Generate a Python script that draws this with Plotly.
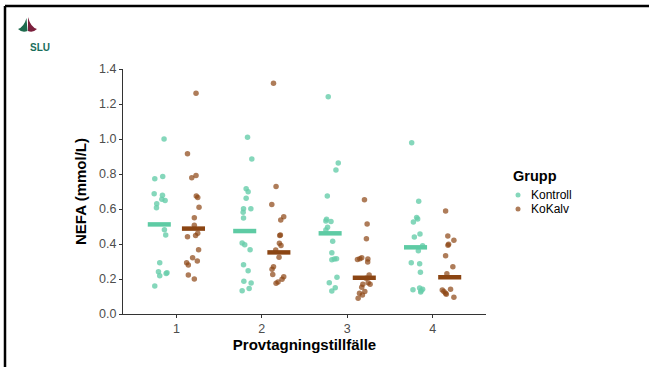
import plotly.graph_objects as go

# NEFA values (jittered x positions as drawn)
kontroll_x = [0.856, 0.747, 0.84, 0.74, 0.837, 0.77, 0.83, 0.868, 0.767, 0.86, 0.875, 0.805, 0.79, 0.805, 0.89, 0.88, 0.747,
              1.833, 1.883, 1.817, 1.84, 1.817, 1.786, 1.872, 1.782, 1.786, 1.77, 1.80, 1.863, 1.786, 1.84, 1.79, 1.875, 1.852, 1.77,
              2.778, 2.895, 2.868, 2.767, 2.758, 2.75, 2.81, 2.77, 2.75, 2.83, 2.82, 2.82, 2.85, 2.875, 2.88, 2.79, 2.86, 2.82,
              3.755, 3.837, 3.813, 3.825, 3.775, 3.852, 3.786, 3.883, 3.833, 3.75, 3.848, 3.857, 3.77, 3.848, 3.883, 3.86, 3.865]
kontroll_y = [1.0, 0.773, 0.785, 0.687, 0.678, 0.63, 0.655, 0.648, 0.607, 0.482, 0.451, 0.293, 0.242, 0.219, 0.236, 0.232, 0.16,
              1.01, 0.886, 0.716, 0.699, 0.661, 0.602, 0.602, 0.581, 0.549, 0.406, 0.396, 0.367, 0.282, 0.247, 0.187, 0.177, 0.145, 0.133,
              1.242, 0.863, 0.823, 0.674, 0.541, 0.531, 0.528, 0.495, 0.48, 0.415, 0.35, 0.31, 0.314, 0.316, 0.21, 0.179, 0.15, 0.131,
              0.979, 0.644, 0.552, 0.543, 0.526, 0.457, 0.44, 0.39, 0.362, 0.293, 0.287, 0.238, 0.139, 0.149, 0.141, 0.126, 0.133]

kokalv_x = [1.23, 1.13, 1.18, 1.23, 1.233, 1.25, 1.265, 1.21, 1.21, 1.25, 1.225, 1.13, 1.26, 1.19, 1.12, 1.14, 1.245, 1.14, 1.21,
            2.137, 2.167, 2.117, 2.257, 2.222, 2.218, 2.21, 2.206, 2.225, 2.163, 2.202, 2.137, 2.12, 2.128, 2.257, 2.237, 2.19, 2.167,
            3.202, 3.233, 3.225, 3.12, 3.17, 3.148, 3.242, 3.24, 3.257, 3.268, 3.245, 3.183, 3.206, 3.17, 3.144, 3.128, 3.178, 3.22,
            4.152, 4.178, 4.249, 4.187, 4.18, 4.152, 4.237, 4.167, 4.21, 4.113, 4.132, 4.152, 4.16, 4.249]
kokalv_y = [1.261, 0.916, 0.779, 0.792, 0.674, 0.665, 0.61, 0.55, 0.507, 0.461, 0.448, 0.442, 0.367, 0.322, 0.293, 0.28, 0.303, 0.223, 0.2,
            1.318, 0.728, 0.625, 0.556, 0.537, 0.451, 0.448, 0.404, 0.392, 0.366, 0.324, 0.27, 0.255, 0.225, 0.213, 0.198, 0.183, 0.175,
            0.653, 0.514, 0.43, 0.312, 0.322, 0.316, 0.314, 0.297, 0.223, 0.17, 0.179, 0.17, 0.128, 0.153, 0.118, 0.09, 0.109, 0.204,
            0.589, 0.446, 0.421, 0.398, 0.393, 0.333, 0.27, 0.23, 0.141, 0.137, 0.128, 0.118, 0.113, 0.095]

tillfalle = [1, 2, 3, 4]
mean_kontroll = [0.512, 0.474, 0.461, 0.381]
mean_kokalv = [0.488, 0.352, 0.207, 0.21]
grupper = ['Kontroll', 'KoKalv']

teal = '#66CDAA'
brown = '#8B4513'

# pixel -> paper helpers (plot area 123..486 x 69..314)
L, T, W, H = 123, 69, 363, 245
def px(x): return (x - L) / W
def py(y): return (T + H - y) / H

fig = go.Figure()

fig.add_trace(go.Scatter(x=kontroll_x, y=kontroll_y, mode='markers', name=grupper[0],
                         marker=dict(color=teal, opacity=0.8, size=5.5)))
fig.add_trace(go.Scatter(x=kokalv_x, y=kokalv_y, mode='markers', name=grupper[1],
                         marker=dict(color=brown, opacity=0.7, size=5.5)))

# mean crossbars
def bars(means, offset):
    xs, ys = [], []
    for c, m in zip(tillfalle, means):
        xs += [c + offset - 0.135, c + offset + 0.135, None]
        ys += [m, m, None]
    return xs, ys

bx, by = bars(mean_kontroll, -0.2)
fig.add_trace(go.Scatter(x=bx, y=by, mode='lines', line=dict(color='#5ECBA4', width=4.5), showlegend=False))
bx, by = bars(mean_kokalv, 0.2)
fig.add_trace(go.Scatter(x=bx, y=by, mode='lines', line=dict(color=brown, width=4.5), showlegend=False))

axis_font = dict(family='Liberation Sans, Arial', size=12.5, color='#4d4d4d')
title_font = dict(family='Liberation Sans, Arial', size=15, color='black')

fig.update_layout(
    width=649, height=367,
    margin=dict(l=L, r=649 - L - W, t=T, b=367 - T - H),
    plot_bgcolor='white', paper_bgcolor='white',
    font=dict(family='Liberation Sans, Arial'),
    showlegend=False,
    xaxis=dict(range=[0.375, 4.625], tickvals=tillfalle, ticktext=['1', '2', '3', '4'],
               showgrid=False, zeroline=False, showline=True, linecolor='#333333', linewidth=1.2,
               ticks='outside', ticklen=3, tickcolor='#333333', tickfont=axis_font,
               title=dict(text='<b>Provtagningstillfälle</b>', font=title_font, standoff=3)),
    yaxis=dict(range=[0, 1.4], tickvals=[0, 0.2, 0.4, 0.6, 0.8, 1.0, 1.2, 1.4], tickformat='.1f',
               showgrid=False, zeroline=False, showline=True, linecolor='#333333', linewidth=1.2,
               ticks='outside', ticklen=3, tickcolor='#333333', tickfont=axis_font,
               title=dict(text='<b>NEFA (mmol/L)</b>', font=title_font, standoff=8)),
)

# legend drawn by hand to match the compact ggplot spacing
fig.add_annotation(x=px(511), y=py(176), xref='paper', yref='paper', xanchor='left', yanchor='middle',
                   text='<b>Grupp</b>', showarrow=False,
                   font=dict(family='Liberation Sans, Arial', size=14.5, color='black'))
for name, col, op, yy in zip(grupper, [teal, brown], [0.8, 0.7], [195, 209]):
    fig.add_shape(type='circle', xref='paper', yref='paper', x0=px(515.5), x1=px(520.5),
                  y0=py(yy + 2.5), y1=py(yy - 2.5), fillcolor=col, opacity=op, line=dict(width=0))
    fig.add_annotation(x=px(529), y=py(yy), xref='paper', yref='paper', xanchor='left', yanchor='middle',
                       text=name, showarrow=False,
                       font=dict(family='Liberation Sans, Arial', size=12, color='black'))

# slide frame (top and left edges)
fig.add_shape(type='line', xref='paper', yref='paper', x0=px(5), x1=px(649), y0=py(6), y1=py(6),
              line=dict(color='black', width=2.5))
fig.add_shape(type='line', xref='paper', yref='paper', x0=px(5), x1=px(5), y0=py(6), y1=py(367),
              line=dict(color='black', width=2.5))

# SLU logo (approximation)
def path(points):
    s = 'M %f,%f' % (px(points[0][0]), py(points[0][1]))
    for i in range(1, len(points) - 1, 2):
        s += ' Q %f,%f %f,%f' % (px(points[i][0]), py(points[i][1]), px(points[i + 1][0]), py(points[i + 1][1]))
    return s + ' Z'

fig.add_shape(type='path', xref='paper', yref='paper', line=dict(width=0), fillcolor='#1E6B4E',
              path=path([(26.5, 18), (24, 27), (18, 29), (22, 33), (27.5, 31)]))
fig.add_shape(type='path', xref='paper', yref='paper', line=dict(width=0), fillcolor='#7B1F3C',
              path=path([(28, 17), (30.5, 27), (37, 29), (33, 33), (28, 31)]))
fig.add_annotation(x=px(27.5), y=py(39.5), xref='paper', yref='paper', text='<b>SLU</b>', showarrow=False,
                   font=dict(family='Liberation Sans, Arial', size=10, color='#1A6E5C'))

fig.write_html('out.html', config={'displayModeBar': False},
               post_script="document.body.style.margin='0';")
